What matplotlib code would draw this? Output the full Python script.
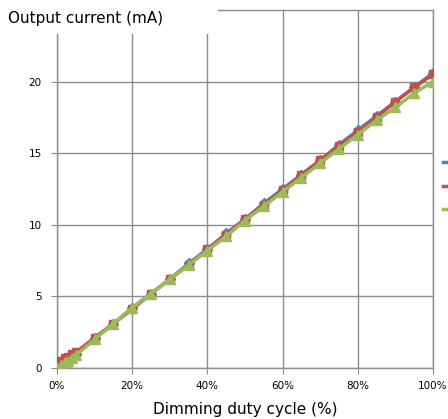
import matplotlib
matplotlib.use("Agg")
import matplotlib.pyplot as plt
from matplotlib.patches import Rectangle
from matplotlib.ticker import FuncFormatter

duty = [0, 1, 2, 3, 4, 5, 10, 15, 20, 25, 30, 35, 40, 45, 50, 55, 60, 65, 70, 75, 80, 85, 90, 95, 100]
blue = [0.0, 0.2, 0.4, 0.6, 0.8, 1.0, 2.1, 3.1, 4.2, 5.2, 6.2, 7.3, 8.3, 9.4, 10.4, 11.5, 12.5, 13.5, 14.5, 15.6, 16.6, 17.6, 18.6, 19.6, 20.6]
red = [0.3, 0.5, 0.7, 0.8, 1.0, 1.1, 2.1, 3.1, 4.1, 5.2, 6.2, 7.2, 8.3, 9.3, 10.4, 11.4, 12.4, 13.5, 14.5, 15.5, 16.5, 17.5, 18.6, 19.6, 20.5]
green = [0.0, 0.2, 0.4, 0.5, 0.7, 0.9, 2.0, 3.1, 4.2, 5.2, 6.2, 7.2, 8.2, 9.2, 10.3, 11.3, 12.3, 13.3, 14.3, 15.3, 16.3, 17.3, 18.2, 19.2, 20.0]
x_ticks = [0, 20, 40, 60, 80, 100]
y_ticks = [0, 5, 10, 15, 20]

fig = plt.figure(figsize=(4.48, 4.19), dpi=100)
ax = fig.add_axes([57/448, 1-368/419, (433-57)/448, (368-10)/419])

l1, = ax.plot(duty, blue, color="#4F81BD", lw=2.5, marker="D", ms=5, zorder=3)
l2, = ax.plot(duty, red, color="#C0504D", lw=2.5, marker="s", ms=6, zorder=4)
l3, = ax.plot(duty, green, color="#9BBB59", lw=2.5, marker="^", ms=7, zorder=5)

ax.set_xlim(0, 100)
ax.set_ylim(0, 25)
ax.set_xticks(x_ticks)
ax.set_yticks(y_ticks)
ax.xaxis.set_major_formatter(FuncFormatter(lambda v, p: f"{int(v)}%"))
ax.grid(True, color="#8c8c8c", lw=1)
ax.set_axisbelow(True)
for s in ax.spines.values():
    s.set_color("#8c8c8c")
    s.set_linewidth(1)
ax.tick_params(axis="both", labelsize=7.5, color="#8c8c8c", length=4, pad=5)
ax.tick_params(axis="y", pad=7)

ax.set_xlabel("Dimming duty cycle (%)", fontsize=11, labelpad=8)

fig.patches.append(Rectangle((0, 1-34/419), 218/448, 34/419, transform=fig.transFigure,
                             facecolor="white", edgecolor="none", zorder=5))
fig.text(8/448, 1-18/419, "Output current (mA)", fontsize=11, va="center", ha="left", zorder=6)

fig.legend(handles=[l1, l2, l3], labels=["", "", ""], loc="upper left",
           bbox_to_anchor=(443/448, 1-158/419), frameon=False,
           fontsize=7.5, handlelength=2.5, labelspacing=1.3, borderaxespad=0, borderpad=0)

fig.savefig("out.png", dpi=100)
